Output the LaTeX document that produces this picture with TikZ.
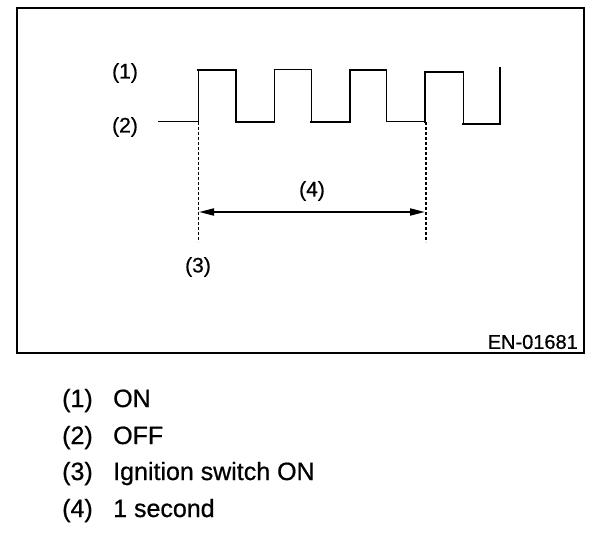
\documentclass[tikz,border=0pt]{standalone}
\usepackage{fontspec}
\setmainfont{Liberation Sans}[FakeBold=0.6]
\newfontfamily\heavyfont{Liberation Sans}[FakeBold=0.7]
\usetikzlibrary{arrows.meta}
\begin{document}
\begin{tikzpicture}[x=1pt,y=-1pt,
  thinw/.style={line width=1pt},
  thickw/.style={line width=2.2pt,line cap=rect},
  lbl/.style={font=\heavyfont\fontsize{21}{25}\selectfont,inner sep=0pt},
  lst/.style={font=\heavyfont\fontsize{25}{30}\selectfont,inner sep=0pt,anchor=base west},
  dashthin/.style={line width=1pt,dash pattern=on 3pt off 2pt},
  dashthick/.style={line width=2pt,dash pattern=on 3pt off 2pt},
  dim/.style={line width=2pt,{Triangle[length=15pt,width=7pt]}-{Triangle[length=15pt,width=7pt]}}]
\useasboundingbox (0,0) rectangle (608,548);
% frame
\draw[line width=2pt] (17,8) rectangle (584,353);
% waveform
\draw[thinw] (158,122) -- (198,122) -- (198,70);
\draw[thickw] (198,70) -- (236,70) -- (236,122) -- (274,122);
\draw[thinw] (274,122) -- (274,70) -- (311,70) -- (311,122);
\draw[thickw] (311,122) -- (350,122) -- (350,70) -- (386,70);
\draw[thinw] (386,70) -- (386,122) -- (425,122);
\draw[thickw] (425,122) -- (425,72) -- (463,72);
\draw[thinw] (463,72) -- (463,124);
\draw[thickw] (463,124) -- (500,124) -- (500,68);
% markers
\coordinate (s1) at (198,122);
\coordinate (s2) at (198,242);
\coordinate (e1) at (426,122);
\coordinate (e2) at (426,242);
\coordinate (a1) at (199,212);
\coordinate (a2) at (425,212);
\draw[dashthin] (s1) -- (s2);
\draw[dashthick] (e1) -- (e2);
\draw[dim] (a1) -- (a2);
% labels
\node[lbl] (l1) at (125,73) {(1)};
\node[lbl] (l2) at (125,127) {(2)};
\node[lbl] (l3) at (198,267) {(3)};
\node[lbl] (l4) at (312,191) {(4)};
\node[lbl,font=\heavyfont\fontsize{20}{24}\selectfont,anchor=east] (code) at (578,342) {EN-01681};
% legend
\node[lst] (n1) at (62,407) {(1)};
\node[lst] (t1) at (113,407) {ON};
\node[lst] (n2) at (62,444) {(2)};
\node[lst] (t2) at (113,444) {OFF};
\node[lst] (n3) at (62,480) {(3)};
\node[lst] (t3) at (113,480) {Ignition switch ON};
\node[lst] (n4) at (62,517) {(4)};
\node[lst] (t4) at (113,517) {1 second};
\end{tikzpicture}
\end{document}
